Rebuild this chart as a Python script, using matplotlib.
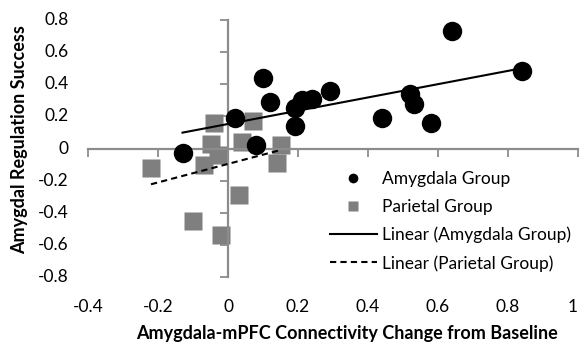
import numpy as np
import matplotlib
matplotlib.use('Agg')
import matplotlib.pyplot as plt
from matplotlib.lines import Line2D
from matplotlib import transforms

GRAY_PT, GRAY_AX, BLACK = '#7f7f7f', '#8c8c8c', '#000000'
plt.rcParams.update({'font.family': ['Lato', 'DejaVu Sans'], 'font.size': 12})

# amygdala group (black circles)
amy_x = [-0.13, 0.02, 0.08, 0.10, 0.12, 0.19, 0.19, 0.21, 0.24, 0.29, 0.44, 0.52, 0.53, 0.58, 0.64, 0.84]
amy_y = [-0.03, 0.19, 0.02, 0.44, 0.29, 0.25, 0.14, 0.30, 0.31, 0.36, 0.19, 0.34, 0.28, 0.16, 0.73, 0.48]
# parietal group (gray squares)
par_x = [-0.22, -0.07, -0.03, -0.05, -0.04, 0.04, 0.07, 0.15, 0.14, 0.03, -0.10, -0.02]
par_y = [-0.12, -0.10, -0.04, 0.03, 0.16, 0.04, 0.17, 0.02, -0.09, -0.29, -0.45, -0.54]

x_ticks = [-0.4, -0.2, 0, 0.2, 0.4, 0.6, 0.8, 1.0]
y_ticks = [-0.8, -0.6, -0.4, -0.2, 0, 0.2, 0.4, 0.6, 0.8]
x_label = 'Amygdala-mPFC Connectivity Change from Baseline'
y_label = 'Amygdal Regulation Success'
names = ['Amygdala Group', 'Parietal Group', 'Linear (Amygdala Group)', 'Linear (Parietal Group)']


def trend(xs, ys):
    xs, ys = np.asarray(xs), np.asarray(ys)
    k, b = np.polyfit(xs, ys, 1)
    xx = np.array([xs.min(), xs.max()])
    return xx, k * xx + b


fig = plt.figure(figsize=(5.81, 3.45), dpi=100)
ax = fig.add_axes([88 / 581, 1 - 277 / 345, 490 / 581, 257 / 345])
ax.set_xlim(-0.4, 1.0)
ax.set_ylim(-0.8, 0.8)

for side in ('top', 'right'):
    ax.spines[side].set_visible(False)
for side in ('left', 'bottom'):
    ax.spines[side].set_position(('data', 0))
    ax.spines[side].set_color(GRAY_AX)
    ax.spines[side].set_linewidth(1.6)
ax.set_xticks(x_ticks)
ax.set_yticks(y_ticks)
ax.tick_params(direction='out', length=6, width=1.3, color=GRAY_AX, labelbottom=False, labelleft=False)

tx = transforms.blended_transform_factory(ax.transData, ax.transAxes)
ty = transforms.blended_transform_factory(ax.transAxes, ax.transData)
for v in x_ticks:
    # last label sits right at the figure edge, as in the original
    ax.text(v, -0.115, f'{v:g}', transform=tx, ha='right' if v == 1.0 else 'center',
            va='center', fontsize=12.5, clip_on=False)
for v in y_ticks:
    ax.text(-0.04, v, f'{v:g}', transform=ty, ha='right', va='center', fontsize=12.5, clip_on=False)

ax.plot(amy_x, amy_y, 'o', color=BLACK, ms=14, mec='none', zorder=3, clip_on=False)
ax.plot(par_x, par_y, 's', color=GRAY_PT, ms=13, mec='none', zorder=2, clip_on=False)
lx, ly = trend(amy_x, amy_y)
ax.plot(lx, ly, '-', color=BLACK, lw=1.5, zorder=4)
lx, ly = trend(par_x, par_y)
ax.plot(lx, ly, color=BLACK, lw=1.5, ls=(0, (3, 2)), zorder=4)

handles = [Line2D([], [], marker='o', color=BLACK, ls='none', ms=7, mec='none'),
           Line2D([], [], marker='s', color=GRAY_PT, ls='none', ms=7, mec='none'),
           Line2D([], [], color=BLACK, lw=1.5),
           Line2D([], [], color=BLACK, lw=1.5, ls=(0, (3, 2)))]
ax.legend(handles, names, loc='upper left', bbox_to_anchor=(330 / 581, 1 - 171 / 345),
          bbox_transform=fig.transFigure, frameon=False, borderpad=0, borderaxespad=0,
          handlelength=2.7, handletextpad=0.3, labelspacing=0.68, fontsize=12.5)

fig.text(347 / 581, 1 - 333 / 345, x_label, ha='center', va='center', fontsize=13, fontweight='bold')
fig.text(20 / 581, 1 - 140 / 345, y_label, ha='center', va='center', rotation=90, fontsize=13, fontweight='bold')

fig.savefig('out.png', dpi=100)
